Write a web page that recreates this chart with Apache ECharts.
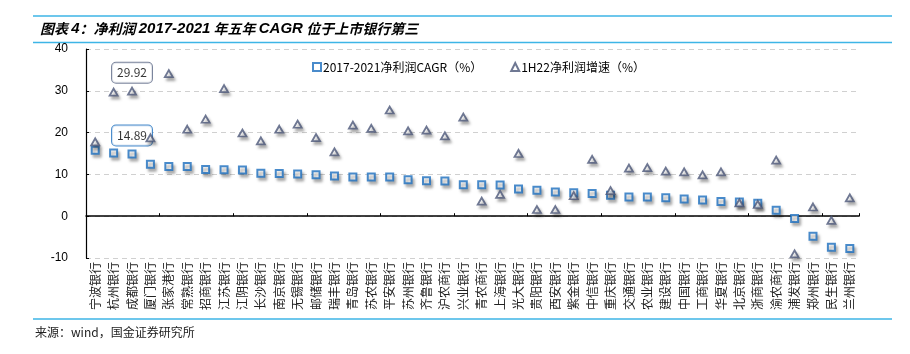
<!DOCTYPE html>
<html>
<head>
<meta charset="utf-8">
<script src="https://cdn.jsdelivr.net/npm/echarts@6/dist/echarts.min.js"></script>
<style>
html,body{margin:0;padding:0;background:#fff;}
#chart{width:910px;height:354px;}
</style>
</head>
<body>
<div id="chart"></div>
<script>
const banks = ['宁波银行','杭州银行','成都银行','厦门银行','张家港行','常熟银行','招商银行','江苏银行','江阴银行','长沙银行','南京银行','无锡银行','邮储银行','瑞丰银行','青岛银行','苏农银行','平安银行','苏州银行','齐鲁银行','沪农商行','兴业银行','青农商行','上海银行','光大银行','贵阳银行','西安银行','紫金银行','中信银行','重庆银行','交通银行','农业银行','建设银行','中国银行','工商银行','华夏银行','北京银行','浙商银行','渝农商行','浦发银行','郑州银行','民生银行','兰州银行'];
const cagr = [15.8,15.1,14.89,12.4,11.9,11.9,11.2,11.1,11.05,10.3,10.2,10.1,9.9,9.6,9.4,9.4,9.4,8.7,8.5,8.4,7.5,7.5,7.45,6.5,6.2,5.8,5.6,5.45,5.0,4.6,4.6,4.4,4.1,3.9,3.5,3.4,3.1,1.45,-0.55,-4.8,-7.45,-7.75];
const h1 = [17.8,29.7,29.92,18.75,34.1,20.8,23.2,30.5,19.9,18.0,20.8,22.0,18.8,15.4,21.8,21.0,25.4,20.4,20.6,19.2,23.7,3.6,5.2,15.0,1.6,1.6,4.9,13.6,6.1,11.5,11.6,10.8,10.6,9.9,10.6,3.2,2.8,13.4,-9.0,2.2,-1.0,4.4];
const yTicks = [-10,0,10,20,30,40];
const seriesNames = ['2017-2021净利润CAGR（%）','1H22净利润增速（%）'];
const labelIndex = 2;
const titleText = '{i|图表 }{b|4}{i|：净利润 }{b|2017-2021}{i| 年五年 }{b|CAGR}{i| 位于上市银行第三}';
const sourceText = '来源：wind，国金证券研究所';

const SQ = '#1C6EBE', TR = '#4B5678';
const CJK = '"Noto Sans CJK SC", "Liberation Sans", sans-serif';
const shadow = {shadowColor:'rgba(0,0,0,0.35)', shadowBlur:3, shadowOffsetX:2, shadowOffsetY:3};

function withLabel(arr, idx, color) {
  return arr.map((v, i) => i !== idx ? v : {
    value: v,
    label: {
      show: true, position: 'top', distance: 4,
      formatter: v.toFixed(2),
      backgroundColor: '#fff', borderColor: color, borderWidth: 1, borderRadius: 4,
      padding: [4, 5], fontSize: 12, color: '#000', fontFamily: CJK
    }
  });
}

const chart = echarts.init(document.getElementById('chart'));
chart.setOption({
  animation: false,
  title: {
    text: titleText, left: 35, top: 16,
    textStyle: {
      rich: {
        i: {fontStyle:'italic', fontFamily: CJK, fontSize: 14, color:'#000'},
        b: {fontStyle:'italic', fontWeight:'bold', fontFamily:'"Liberation Sans", Arial, sans-serif', fontSize: 15, color:'#000'}
      }
    }
  },
  legend: {
    left: 307, top: 56, itemWidth: 8, itemHeight: 8, itemGap: 28,
    textStyle: {fontSize: 12, color:'#000', fontFamily: CJK, padding:[0,0,0,-3]},
    data: seriesNames
  },
  grid: {left: 86, right: 51, top: 49, bottom: 96},
  xAxis: [
    {type:'category', data: banks, position:'bottom',
     axisLine:{show:false, onZero:false}, axisTick:{show:false},
     axisLabel:{rotate:90, margin:4, fontSize:12, color:'#222', fontFamily: CJK, interval:0}},
    {type:'category', data: banks, position:'bottom',
     axisLine:{show:true, onZero:true, lineStyle:{color:'#000', width:1.5}},
     axisTick:{show:true, inside:true, length:3, lineStyle:{color:'#000'}},
     axisLabel:{show:false}}
  ],
  yAxis: {
    type:'value', min: yTicks[0], max: yTicks[yTicks.length-1], interval: 10,
    axisLine:{show:true, lineStyle:{color:'#000', width:1.2}},
    axisTick:{show:true, inside:true, length:3, lineStyle:{color:'#000'}},
    axisLabel:{fontSize:12, color:'#000', margin:18, fontFamily:'"Liberation Sans", Arial, sans-serif'},
    splitLine:{show:true, lineStyle:{type:[5,4], color:'#D0D0D0', width:1}}
  },
  series: [
    {name: seriesNames[0], type:'scatter', xAxisIndex:0, symbol:'rect', symbolSize:7,
     itemStyle: Object.assign({color:'#fff', borderColor:SQ, borderWidth:2}, shadow),
     data: withLabel(cagr, labelIndex, SQ), z: 3},
    {name: seriesNames[1], type:'scatter', xAxisIndex:0, symbol:'triangle', symbolSize:[8,7],
     itemStyle: Object.assign({color:'#fff', borderColor:TR, borderWidth:1.8}, shadow),
     data: withLabel(h1, labelIndex, '#5A6784'), z: 4}
  ],
  graphic: [
    {type:'line', shape:{x1:33, y1:16, x2:892, y2:16}, style:{stroke:'#3DB5E6', lineWidth:1.5}},
    {type:'line', shape:{x1:33, y1:42.5, x2:892, y2:42.5}, style:{stroke:'#3DB5E6', lineWidth:1.5}},
    {type:'line', shape:{x1:33, y1:319, x2:892, y2:319}, style:{stroke:'#3DB5E6', lineWidth:1.5}},
    {type:'text', left:35, top:326, style:{text: sourceText, font:'12px "Noto Sans CJK SC", sans-serif', fill:'#222'}}
  ]
});
</script>
</body>
</html>
